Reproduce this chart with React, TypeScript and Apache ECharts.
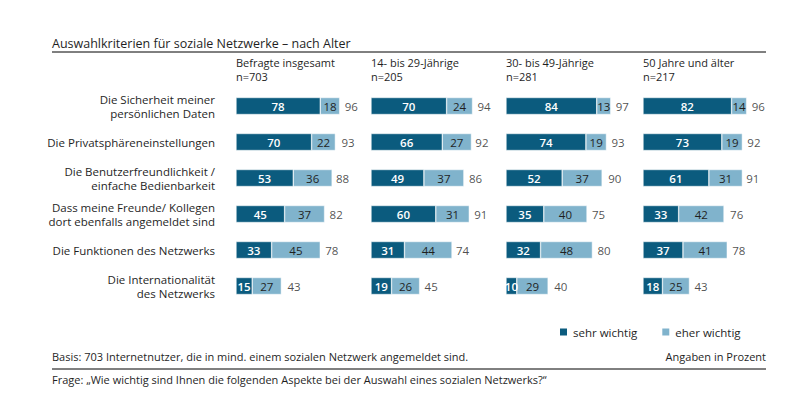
import React, { useEffect, useRef } from "react";
import * as echarts from "echarts";

const categories = [
  "Die Sicherheit meiner\npersönlichen Daten",
  "Die Privatsphäreneinstellungen",
  "Die Benutzerfreundlichkeit /\neinfache Bedienbarkeit",
  "Dass meine Freunde/ Kollegen\ndort ebenfalls angemeldet sind",
  "Die Funktionen des Netzwerks",
  "Die Internationalität\ndes Netzwerks",
];

const panelTitles = [
  "Befragte insgesamt",
  "14- bis 29-Jährige",
  "30- bis 49-Jährige",
  "50 Jahre und älter",
];

const panelCounts = ["n=703", "n=205", "n=281", "n=217"];

const sehrWichtig = [
  [78, 70, 53, 45, 33, 15],
  [70, 66, 49, 60, 31, 19],
  [84, 74, 52, 35, 32, 10],
  [82, 73, 61, 33, 37, 18],
];

const eherWichtig = [
  [18, 22, 36, 37, 45, 27],
  [24, 27, 37, 31, 44, 26],
  [13, 19, 37, 40, 48, 29],
  [14, 19, 31, 42, 41, 25],
];

const gesamt = [
  [96, 93, 88, 82, 78, 43],
  [94, 92, 86, 91, 74, 45],
  [97, 93, 90, 75, 80, 40],
  [96, 92, 91, 76, 78, 43],
];

const legendNames = ["sehr wichtig", "eher wichtig"];

const DARK = "#0b5b7e";
const LIGHT = "#80b3cc";
const TEXT = "#1f1f1f";
const FONT = "'Open Sans', 'Noto Sans', sans-serif";

export default function App() {
  const ref = useRef<HTMLDivElement>(null);

  useEffect(() => {
    if (!ref.current) return;
    const chart = echarts.init(ref.current, undefined, { renderer: "svg" });

    const lefts = [228, 363, 498, 635];
    const grids = lefts.map((l) => ({
      left: l,
      top: 80,
      width: 108,
      height: 216,
    }));

    const xAxes = lefts.map((_, i) => ({
      type: "value" as const,
      gridIndex: i,
      min: 0,
      max: 100,
      show: false,
    }));

    const yAxes = lefts.map((_, i) => ({
      type: "category" as const,
      gridIndex: i,
      data: categories,
      inverse: true,
      axisLine: { show: false },
      axisTick: { show: false },
      axisLabel: {
        show: i === 0,
        margin: 21,
        color: TEXT,
        fontFamily: FONT,
        fontSize: 11.5,
        lineHeight: 14,
        align: "right" as const,
      },
    }));

    const series: any[] = [];
    lefts.forEach((_, i) => {
      series.push({
        type: "bar",
        name: legendNames[0],
        xAxisIndex: i,
        yAxisIndex: i,
        stack: "s" + i,
        data: sehrWichtig[i],
        barWidth: 17,
        itemStyle: { color: DARK, borderColor: "#fff", borderWidth: 0.5 },
        label: {
          show: true,
          position: "inside",
          color: "#fff",
          fontFamily: FONT,
          fontWeight: 600,
          fontSize: 11.5,
        },
      });
      series.push({
        type: "bar",
        name: legendNames[1],
        xAxisIndex: i,
        yAxisIndex: i,
        stack: "s" + i,
        data: eherWichtig[i],
        barWidth: 17,
        itemStyle: { color: LIGHT, borderColor: "#fff", borderWidth: 0.5 },
        label: {
          show: true,
          position: "inside",
          color: TEXT,
          fontFamily: FONT,
          fontSize: 11.5,
        },
      });
      series.push({
        type: "scatter",
        xAxisIndex: i,
        yAxisIndex: i,
        symbolSize: 0,
        data: gesamt[i].map((v, k) => [v, k]),
        label: {
          show: true,
          position: "right",
          distance: 5,
          color: TEXT,
          fontFamily: FONT,
          fontSize: 11.5,
          formatter: (p: any) => String(p.value[0]),
        },
        silent: true,
      });
    });

    const headerTexts: any[] = [];
    panelTitles.forEach((t, i) => {
      headerTexts.push({
        type: "text",
        left: lefts[i],
        top: 49,
        style: { text: t, fill: TEXT, font: `11px ${FONT}` },
      });
      headerTexts.push({
        type: "text",
        left: lefts[i],
        top: 63,
        style: { text: panelCounts[i], fill: TEXT, font: `11px ${FONT}` },
      });
    });

    chart.setOption({
      animation: false,
      backgroundColor: "#fff",
      grid: grids,
      xAxis: xAxes,
      yAxis: yAxes,
      series,
      legend: {
        data: legendNames,
        left: 550,
        top: 318,
        padding: 0,
        itemWidth: 9,
        itemHeight: 9,
        itemGap: 23,
        itemTextGap: 7,
        icon: "rect",
        textStyle: { color: TEXT, fontFamily: FONT, fontSize: 11.5 },
      },
      graphic: [
        {
          type: "text",
          left: 44,
          top: 29,
          style: {
            text: "Auswahlkriterien für soziale Netzwerke – nach Alter",
            fill: TEXT,
            font: `12.5px ${FONT}`,
          },
        },
        {
          type: "line",
          shape: { x1: 44, y1: 44, x2: 758, y2: 44 },
          style: { stroke: "#000", lineWidth: 1 },
        },
        ...headerTexts,
        {
          type: "text",
          left: 44,
          top: 343,
          style: {
            text: "Basis: 703 Internetnutzer, die in mind. einem sozialen Netzwerk angemeldet sind.",
            fill: TEXT,
            font: `11px ${FONT}`,
          },
        },
        {
          type: "text",
          right: 30,
          top: 343,
          style: {
            text: "Angaben in Prozent",
            fill: TEXT,
            font: `11px ${FONT}`,
          },
        },
        {
          type: "line",
          shape: { x1: 44, y1: 361, x2: 758, y2: 361 },
          style: { stroke: "#000", lineWidth: 1 },
        },
        {
          type: "text",
          left: 44,
          top: 366,
          style: {
            text: "Frage: „Wie wichtig sind Ihnen die folgenden Aspekte bei der Auswahl eines sozialen Netzwerks?“",
            fill: TEXT,
            font: `11px ${FONT}`,
          },
        },
      ],
    });

    return () => chart.dispose();
  }, []);

  return <div ref={ref} style={{ width: 788, height: 380 }} />;
}
